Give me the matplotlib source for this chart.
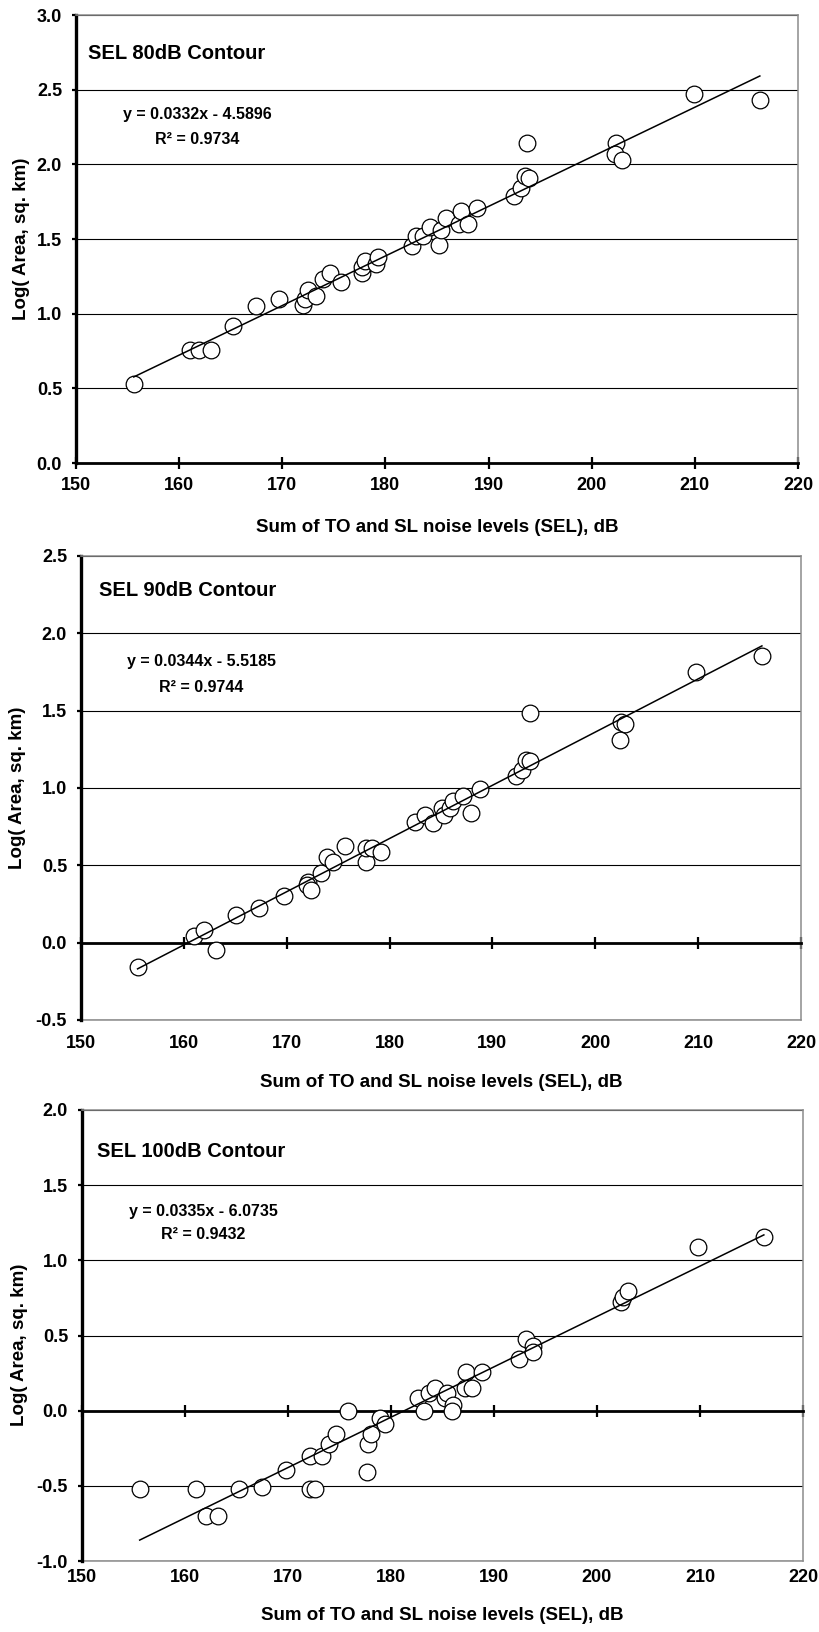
import numpy as np
import matplotlib
matplotlib.use("Agg")
import matplotlib.pyplot as plt

plt.rcParams['font.family'] = ['Liberation Sans', 'DejaVu Sans']
plt.rcParams['font.weight'] = 'bold'

# ---------------- data ----------------
titles = ["SEL 80dB Contour", "SEL 90dB Contour", "SEL 100dB Contour"]

x80 = [155.6, 161.1, 161.9, 163.1, 165.2, 167.5, 169.7, 172.0, 172.2, 172.5, 173.3, 173.9, 174.6, 175.7,
       177.7, 177.7, 178.0, 179.1, 179.3, 182.6, 183.0, 183.6, 184.3, 185.2, 185.4, 185.9, 187.1, 187.3,
       188.0, 188.9, 192.5, 193.1, 193.5, 193.9, 193.7, 202.4, 202.3, 202.9, 209.9, 216.3]
y80 = [0.53, 0.76, 0.76, 0.76, 0.92, 1.05, 1.10, 1.06, 1.10, 1.16, 1.12, 1.23, 1.27, 1.21,
       1.27, 1.31, 1.35, 1.33, 1.38, 1.45, 1.52, 1.52, 1.58, 1.46, 1.56, 1.64, 1.60, 1.69,
       1.60, 1.71, 1.79, 1.84, 1.92, 1.91, 2.14, 2.14, 2.07, 2.03, 2.47, 2.43]

x90 = [155.5, 161.0, 162.0, 163.1, 165.1, 167.3, 169.7, 172.1, 172.0, 172.4, 173.3, 173.9, 174.5, 175.7,
       177.7, 177.7, 178.3, 179.2, 182.5, 183.4, 184.2, 185.1, 185.3, 185.9, 186.2, 187.1, 187.9, 188.8,
       192.3, 192.9, 193.3, 193.7, 193.7, 202.5, 202.9, 202.4, 209.8, 216.2]
y90 = [-0.155, 0.045, 0.084, -0.047, 0.179, 0.224, 0.299, 0.39, 0.372, 0.34, 0.45, 0.555, 0.519, 0.626,
       0.519, 0.615, 0.615, 0.583, 0.782, 0.824, 0.772, 0.873, 0.824, 0.873, 0.916, 0.948, 0.841, 0.996,
       1.077, 1.116, 1.181, 1.174, 1.486, 1.426, 1.417, 1.308, 1.749, 1.856]

x100 = [155.6, 161.1, 162.0, 163.2, 165.2, 167.5, 169.8, 172.1, 172.1, 172.6, 173.3, 174.0, 174.7, 175.8,
        177.7, 177.8, 178.1, 178.9, 179.4, 182.6, 183.2, 183.7, 184.3, 185.2, 185.4, 186.0, 185.9, 187.3,
        187.2, 187.9, 188.8, 192.4, 193.1, 193.8, 193.8, 202.3, 202.5, 203.0, 209.8, 216.2]
y100 = [-0.523, -0.523, -0.70, -0.70, -0.523, -0.511, -0.396, -0.299, -0.523, -0.523, -0.299, -0.219,
        -0.153, 0.0, -0.409, -0.219, -0.153, -0.049, -0.092, 0.083, 0.0, 0.115, 0.151, 0.083, 0.115,
        0.041, 0.0, 0.26, 0.151, 0.151, 0.26, 0.346, 0.48, 0.431, 0.387, 0.723, 0.755, 0.796, 1.088, 1.156]

slopes = [0.0332, 0.0344, 0.0335]
intercepts = [-4.5896, -5.5185, -6.0735]
r2_values = [0.9734, 0.9744, 0.9432]

ylims = [(0.0, 3.0), (-0.5, 2.5), (-1.0, 2.0)]
xticks = [150, 160, 170, 180, 190, 200, 210, 220]
xlabel = "Sum of TO and SL noise levels (SEL), dB"
ylabel = "Log( Area, sq. km)"

xs = [x80, x90, x100]
ys = [y80, y90, y100]

# ---------------- layout ----------------
W, H = 819, 1632
fig = plt.figure(figsize=(W / 100, H / 100), dpi=100)
# pixel boxes: left, top, right, bottom
boxes = [(76, 15, 798, 463), (81, 556, 801, 1020), (82, 1110, 803, 1561)]
xlab_y = [-0.143, -0.134, -0.120]
ylab_pos = [(-0.076, 0.5), (-0.0875, 0.5), (-0.086, 0.48)]
xpad = [10, 11, 6]
title_pos = [(0.017, 0.915), (0.025, 0.925), (0.021, 0.909)]
eq_pos = [(0.168, 0.779, 0.721), (0.167, 0.772, 0.716), (0.168, 0.775, 0.723)]

gray = '#8c8c8c'

for i in range(3):
    l, t, r, b = boxes[i]
    ax = fig.add_axes([l / W, 1 - b / H, (r - l) / W, (b - t) / H])
    ymin, ymax = ylims[i]
    ax.set_xlim(150, 220)
    ax.set_ylim(ymin, ymax)
    yt = np.arange(ymin, ymax + 0.01, 0.5)
    ax.set_yticks(yt)
    ax.set_yticklabels([f"{v:.1f}" for v in yt])
    ax.set_xticks(xticks)

    # gridlines
    ax.yaxis.grid(True, color='black', linewidth=0.8)
    ax.set_axisbelow(True)

    # spines
    ax.spines['left'].set_linewidth(2.4)
    ax.spines['left'].set_color('black')
    ax.spines['top'].set_color(gray)
    ax.spines['top'].set_linewidth(1.1)
    ax.spines['right'].set_color(gray)
    ax.spines['right'].set_linewidth(1.1)
    ax.spines['bottom'].set_position(('data', 0))
    ax.spines['bottom'].set_linewidth(2.0)
    ax.spines['bottom'].set_color('black')
    ax.spines['bottom'].set_zorder(3)

    ax.tick_params(axis='x', direction='inout', length=9, width=1.6, labelbottom=False, color='black')
    ax.tick_params(axis='y', direction='out', length=3, width=1.6, pad=7, labelsize=13)

    sec = ax.secondary_xaxis('bottom')
    sec.set_xticks(xticks)
    sec.set_xticklabels([str(v) for v in xticks])
    sec.tick_params(axis='x', length=0, pad=xpad[i], labelsize=13)
    if ymin == 0:
        sec.spines['bottom'].set_visible(False)
    else:
        sec.spines['bottom'].set_color(gray)
        sec.spines['bottom'].set_linewidth(1.1)
    sec.set_xlabel(xlabel, fontsize=13.5, fontweight='bold', va='center')
    sec.xaxis.set_label_coords(0.5, xlab_y[i], transform=ax.transAxes)

    ax.set_ylabel(ylabel, fontsize=13.5, fontweight='bold', va='center')
    ax.yaxis.set_label_coords(*ylab_pos[i])

    # data
    ax.plot(xs[i], ys[i], linestyle='none', marker='o', markersize=12,
            markerfacecolor='white', markeredgecolor='black', markeredgewidth=0.9, zorder=4)
    xr = np.array([min(xs[i]), max(xs[i])])
    ax.plot(xr, slopes[i] * xr + intercepts[i], color='black', linewidth=1.1, zorder=5)

    # texts
    ax.text(title_pos[i][0], title_pos[i][1], titles[i], transform=ax.transAxes,
            ha='left', va='center', fontsize=14.5, fontweight='bold')
    ex, ey1, ey2 = eq_pos[i]
    ax.text(ex, ey1, f"y = {slopes[i]:.4f}x - {abs(intercepts[i]):.4f}", transform=ax.transAxes,
            ha='center', va='center', fontsize=11.5, fontweight='bold')
    ax.text(ex, ey2, f"R\u00b2 = {r2_values[i]:.4f}", transform=ax.transAxes,
            ha='center', va='center', fontsize=11.5, fontweight='bold')

fig.savefig("out.png", dpi=100)
